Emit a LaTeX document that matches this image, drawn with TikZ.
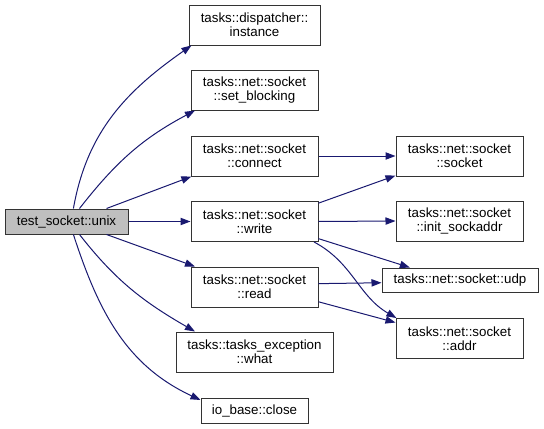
\documentclass[tikz,border=0pt]{standalone}
\usepackage{fontspec}
\setmainfont{Liberation Sans}
\usepackage{tikz}
\usetikzlibrary{arrows.meta}
\definecolor{edgeblue}{HTML}{191970}
\definecolor{boxgray}{HTML}{BFBFBF}

\begin{document}
\begin{tikzpicture}[
    x=0.75pt, y=-0.75pt,
    func/.style={
      rectangle,
      draw=black!80,
      fill=white,
      line width=0.75pt,
      align=center,
      inner sep=0pt,
      minimum width=95.25pt,
      minimum height=30pt,
      font=\fontsize{10}{10.5}\selectfont
    },
    call/.style={-{Triangle[length=7.5pt,width=5.5pt]}, draw=edgeblue, line width=0.75pt}
  ]
  \useasboundingbox (0,0) rectangle (544,429);

  \node[func, fill=boxgray, minimum width=92.25pt, minimum height=18.75pt] (unix) at (66.5,221.5) {test\_socket::unix};

  \node[func, minimum width=98.25pt] (inst) at (254.5,25) {tasks::dispatcher::\\instance};
  \node[func] (sblk) at (254.5,90) {tasks::net::socket\\::set\_blocking};
  \node[func] (conn) at (254.5,156) {tasks::net::socket\\::connect};
  \node[func] (write) at (254.5,221.5) {tasks::net::socket\\::write};
  \node[func] (read) at (254.5,287) {tasks::net::socket\\::read};
  \node[func, minimum width=117.75pt] (what) at (254.5,352) {tasks::tasks\_exception\\::what};
  \node[func, minimum width=80.25pt, minimum height=18.75pt] (close) at (254.5,410.5) {io\_base::close};

  \node[func] (sock) at (459.5,156) {tasks::net::socket\\::socket};
  \node[func] (init) at (459.5,221) {tasks::net::socket\\::init\_sockaddr};
  \node[func, minimum width=117pt, minimum height=18pt] (udp) at (460,280) {tasks::net::socket::udp};
  \node[func] (addr) at (459.5,338.5) {tasks::net::socket\\::addr};

  % calls from test_socket::unix
  \draw[call] (unix.62) to[out=80, in=215] (inst.198);
  \draw[call] (unix.45) to[out=52, in=208] (sblk.199);
  \draw[call] (unix.18) -- (conn.198);
  \draw[call] (unix.east) -- (write.west);
  \draw[call] (unix.-18) -- (read.161);
  \draw[call] (unix.-45) to[out=-52, in=150] (what.161);
  \draw[call] (unix.-62) to[out=-72, in=155] (close.169);

  % second level
  \draw[call] (conn.east) -- (sock.west);
  \draw[call] (write.16) -- (sock.197);
  \draw[call] (write.east) -- (init.west);
  \draw[call] (write.-15) -- (udp.166);
  \draw[call] (write.-19) to[out=-28, in=150] (addr.162);
  \draw[call] (read.3) -- (udp.182);
  \draw[call] (read.-13) -- (addr.166);

\end{tikzpicture}
\end{document}
